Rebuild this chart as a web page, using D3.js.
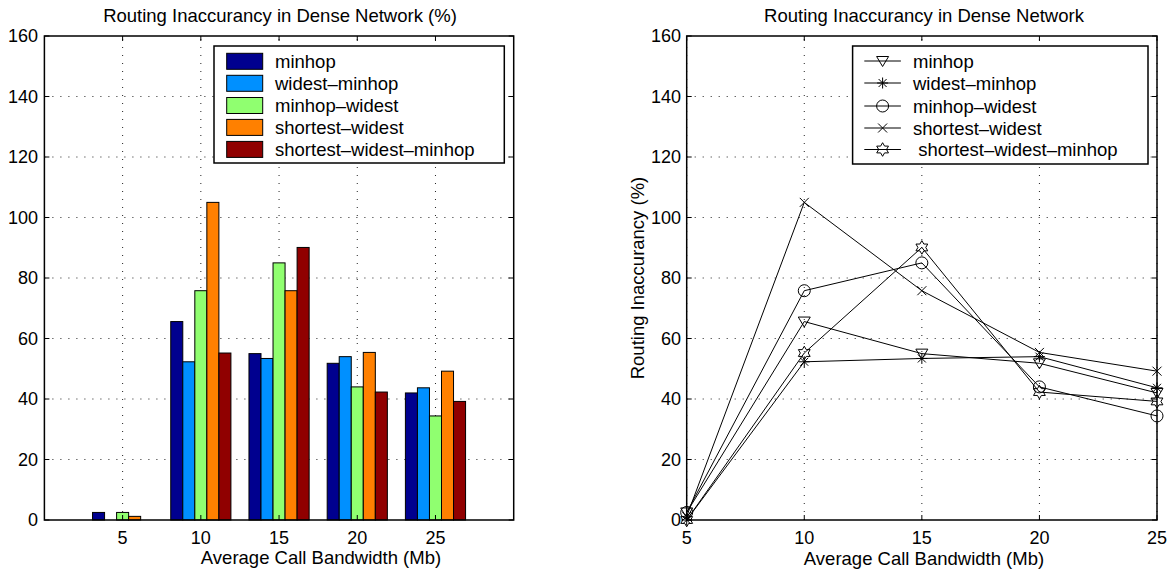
<!DOCTYPE html>
<html>
<head>
<meta charset="utf-8">
<script src="https://cdn.jsdelivr.net/npm/d3@7"></script>
<style>
  html, body { margin: 0; padding: 0; background: #fff; }
  svg { display: block; font-family: "Liberation Sans", Arial, Helvetica, sans-serif; }
  text { white-space: pre; }
</style>
</head>
<body>
<svg id="chart" width="1174" height="571"></svg>
<script>
// Call bandwidth categories (Mb)
const bandwidths = [5, 10, 15, 20, 25];

// Routing algorithms
const seriesNames = ["minhop", "widest–minhop", "minhop–widest", "shortest–widest", "shortest–widest–minhop"];

// Routing inaccuracy (%) per algorithm, one value per bandwidth
const minhop               = [2.5, 65.6, 55.0, 51.8, 42.0];
const widestMinhop         = [0.0, 52.3, 53.4, 54.0, 43.7];
const minhopWidest         = [2.5, 75.8, 85.0, 44.0, 34.4];
const shortestWidest       = [1.2, 105.0, 75.8, 55.4, 49.2];
const shortestWidestMinhop = [0.0, 55.2, 90.1, 42.3, 39.2];

const yTicks = [0, 20, 40, 60, 80, 100, 120, 140, 160];

const seriesValues = [minhop, widestMinhop, minhopWidest, shortestWidest, shortestWidestMinhop];
const barColors = ["#00008f", "#0090ff", "#90ff70", "#ff8000", "#900000"];
const markerTypes = ["triDown", "asterisk", "circle", "cross", "hexagram"];

const svg = d3.select("#chart");
const FONT = 18.5;
const TICK_FONT = 18;

// ---------- shared helpers ----------
function drawFrame(g, x, y, xTickVals) {
  const [x0, x1] = x.range();
  const [yb, yt] = y.range();
  // dotted grid
  const grid = g.append("g").attr("stroke", "#222").attr("stroke-width", 1)
    .attr("stroke-dasharray", "1,7");
  xTickVals.forEach(v => {
    grid.append("line").attr("x1", x(v)).attr("x2", x(v)).attr("y1", yb).attr("y2", yt);
  });
  yTicks.forEach(v => {
    if (v === 0 || v === 160) return;
    grid.append("line").attr("x1", x0).attr("x2", x1).attr("y1", y(v)).attr("y2", y(v));
  });
}

function drawAxes(g, x, y, xTickVals, xTickFmt, yLabelEnd) {
  const [x0, x1] = x.range();
  const [yb, yt] = y.range();
  const ax = g.append("g");
  ax.append("rect").attr("x", x0).attr("y", yt).attr("width", x1 - x0).attr("height", yb - yt)
    .attr("fill", "none").attr("stroke", "#000").attr("stroke-width", 1.5);
  const tl = 5;
  xTickVals.forEach(v => {
    ax.append("line").attr("x1", x(v)).attr("x2", x(v)).attr("y1", yb).attr("y2", yb - tl).attr("stroke", "#000");
    ax.append("line").attr("x1", x(v)).attr("x2", x(v)).attr("y1", yt).attr("y2", yt + tl).attr("stroke", "#000");
    ax.append("text").attr("x", x(v)).attr("y", 544).attr("text-anchor", "middle")
      .attr("font-size", TICK_FONT).text(xTickFmt(v));
  });
  yTicks.forEach(v => {
    ax.append("line").attr("x1", x0).attr("x2", x0 + tl).attr("y1", y(v)).attr("y2", y(v)).attr("stroke", "#000");
    ax.append("line").attr("x1", x1).attr("x2", x1 - tl).attr("y1", y(v)).attr("y2", y(v)).attr("stroke", "#000");
    ax.append("text").attr("x", yLabelEnd).attr("y", y(v)).attr("dy", "0.36em")
      .attr("text-anchor", "end").attr("font-size", TICK_FONT).text(v);
  });
}

// ---------- left panel: grouped bars ----------
const left = svg.append("g");
const xL = d3.scaleLinear().domain([0, 6]).range([44.4, 513.7]);
const yL = d3.scaleLinear().domain([0, 160]).range([520, 36]);
const groupIdx = [1, 2, 3, 4, 5];

drawFrame(left, xL, yL, groupIdx);

const nS = seriesNames.length;
const groupWidth = Math.min(0.8, nS / (nS + 1.5));
const barW = groupWidth / nS;

seriesValues.forEach((vals, s) => {
  left.append("g").selectAll("rect").data(vals).join("rect")
    .attr("x", (d, i) => xL(groupIdx[i] - groupWidth / 2 + s * barW))
    .attr("width", xL(barW) - xL(0))
    .attr("y", d => yL(d))
    .attr("height", d => yL(0) - yL(d))
    .attr("fill", barColors[s])
    .attr("stroke", "#000")
    .attr("stroke-width", 1);
});

drawAxes(left, xL, yL, groupIdx, i => bandwidths[i - 1], 38);

left.append("text").attr("x", 280).attr("y", 22).attr("text-anchor", "middle")
  .attr("font-size", FONT).text("Routing Inaccurancy in Dense Network (%)");
left.append("text").attr("x", 321).attr("y", 564).attr("text-anchor", "middle")
  .attr("font-size", FONT).text("Average Call Bandwidth (Mb)");

// left legend
const legL = left.append("g");
legL.append("rect").attr("x", 214).attr("y", 46).attr("width", 290.3).attr("height", 117)
  .attr("fill", "#fff").attr("stroke", "#000").attr("stroke-width", 1.5);
const legRows = [61.3, 83.3, 105.5, 127.4, 149.4];
seriesNames.forEach((name, s) => {
  legL.append("rect").attr("x", 226.7).attr("y", legRows[s] - 8).attr("width", 36).attr("height", 16)
    .attr("fill", barColors[s]).attr("stroke", "#000").attr("stroke-width", 1);
  legL.append("text").attr("x", 275).attr("y", legRows[s]).attr("dy", "0.36em")
    .attr("font-size", FONT).text(name);
});

// ---------- right panel: lines with markers ----------
const right = svg.append("g");
const xR = d3.scaleLinear().domain([5, 25]).range([686.7, 1157]);
const yR = d3.scaleLinear().domain([0, 160]).range([520, 36]);

drawFrame(right, xR, yR, bandwidths);

function markerPath(type) {
  const p = d3.path();
  if (type === "triDown") {
    p.moveTo(-6, -4.5); p.lineTo(6, -4.5); p.lineTo(0, 5.5); p.closePath();
  } else if (type === "asterisk") {
    p.moveTo(-5.5, 0); p.lineTo(5.5, 0);
    p.moveTo(0, -5.5); p.lineTo(0, 5.5);
    p.moveTo(-4, -4); p.lineTo(4, 4);
    p.moveTo(-4, 4); p.lineTo(4, -4);
  } else if (type === "circle") {
    p.moveTo(6, 0); p.arc(0, 0, 6, 0, 2 * Math.PI);
  } else if (type === "cross") {
    p.moveTo(-4.5, -4.5); p.lineTo(4.5, 4.5);
    p.moveTo(-4.5, 4.5); p.lineTo(4.5, -4.5);
  } else if (type === "hexagram") {
    const R = 6.8, r = R / Math.sqrt(3);
    for (let k = 0; k < 12; k++) {
      const a = -Math.PI / 2 + k * Math.PI / 6;
      const rad = k % 2 === 0 ? R : r;
      const px = rad * Math.cos(a), py = rad * Math.sin(a);
      if (k === 0) p.moveTo(px, py); else p.lineTo(px, py);
    }
    p.closePath();
  }
  return p.toString();
}

const line = d3.line().x((d, i) => xR(bandwidths[i])).y(d => yR(d));
seriesValues.forEach((vals, s) => {
  const g = right.append("g");
  g.append("path").attr("d", line(vals)).attr("fill", "none").attr("stroke", "#000").attr("stroke-width", 1);
  g.selectAll("path.m").data(vals).join("path").attr("class", "m")
    .attr("transform", (d, i) => `translate(${xR(bandwidths[i])},${yR(d)})`)
    .attr("d", markerPath(markerTypes[s]))
    .attr("fill", "none").attr("stroke", "#000").attr("stroke-width", 1);
});

drawAxes(right, xR, yR, bandwidths, v => v, 681);

right.append("text").attr("x", 924).attr("y", 22).attr("text-anchor", "middle")
  .attr("font-size", FONT).text("Routing Inaccurancy in Dense Network");
right.append("text").attr("x", 924).attr("y", 565).attr("text-anchor", "middle")
  .attr("font-size", FONT).text("Average Call Bandwidth (Mb)");
right.append("text").attr("transform", "translate(644,278) rotate(-90)").attr("text-anchor", "middle")
  .attr("font-size", FONT).text("Routing Inaccurancy (%)");

// right legend
const legR = right.append("g");
legR.append("rect").attr("x", 852.6).attr("y", 46).attr("width", 295.4).attr("height", 118)
  .attr("fill", "#fff").attr("stroke", "#000").attr("stroke-width", 1.5);
const legRowsR = [61, 83, 106, 128, 149.5];
seriesNames.forEach((name, s) => {
  const cy = legRowsR[s];
  legR.append("line").attr("x1", 864.3).attr("x2", 900.9).attr("y1", cy).attr("y2", cy)
    .attr("stroke", "#000").attr("stroke-width", 1);
  legR.append("path").attr("transform", `translate(882.6,${cy})`).attr("d", markerPath(markerTypes[s]))
    .attr("fill", "none").attr("stroke", "#000").attr("stroke-width", 1);
  legR.append("text").attr("x", 913).attr("y", cy).attr("dy", "0.36em")
    .attr("font-size", FONT).text(s === 4 ? " " + name : name);
});
</script>
</body>
</html>
